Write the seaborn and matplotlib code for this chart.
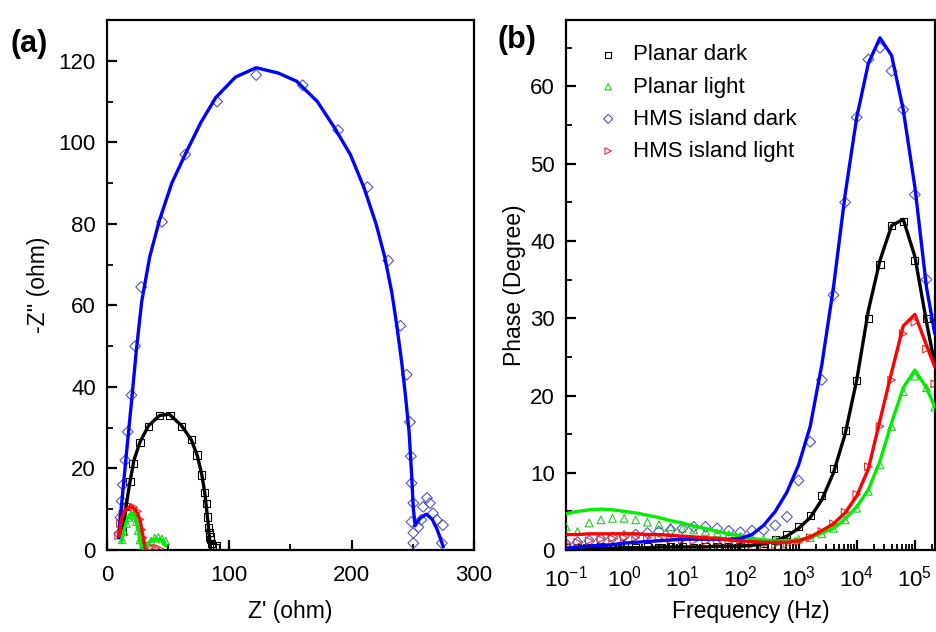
import matplotlib
matplotlib.use("Agg")
import matplotlib.pyplot as plt
from matplotlib.ticker import MultipleLocator, LogLocator, NullFormatter
import seaborn as sns
import pandas as pd

# === Nyquist (a): fit curves ===
hd_fit_x = [9.5, 10.5, 12.3, 16, 20.2, 24, 28.4, 35, 43, 53, 65, 77, 89, 105, 122, 140, 155, 172, 186,
            199, 210, 220, 227, 233, 237, 241, 244, 247, 249, 250.5, 252, 256, 261, 266, 270, 273, 275]
hd_fit_y = [3, 7, 12.3, 24, 36.8, 49, 61, 72, 81, 90, 97.7, 105, 111, 116, 118.3, 117, 115, 110, 103.6,
            97, 89, 80, 72, 63, 55, 46, 38, 29, 19, 10, 6, 7.8, 8.8, 7.5, 5, 2.5, 0.8]
pd_fit_x = [13, 15.5, 18.8, 22, 27, 34, 43, 51, 61, 69, 74, 77.5, 80, 82, 83.5, 84.5]
pd_fit_y = [4, 10.6, 16.7, 22, 26.5, 30.5, 33, 33.3, 30.5, 27, 23, 18.5, 14, 8.5, 4, 0.5]
hl_fit_x = [9.5, 10.5, 12, 15, 18, 20.2, 23, 25, 27, 28.5, 30, 31]
hl_fit_y = [3.5, 5, 7.8, 9.8, 10.5, 10.6, 10, 9, 7.4, 5, 2.5, 0.5]
pl_fit_x = [12, 14, 17, 20, 23, 25.5, 27, 28.5, 31, 35, 40, 45, 48]
pl_fit_y = [2, 5, 8, 9, 8, 5, 2, 0.5, 0.8, 2, 2.8, 2.5, 1]

# === Nyquist (a): measured points ===
pd_x = [13, 15.5, 18.8, 21.3, 27, 34.3, 43.3, 51.5, 61, 69, 73.6, 77.4, 80, 81.5, 82, 82.8, 83.5,
        84.2, 84.6, 85.6, 86.5, 88.3, 89.6]
pd_y = [4.5, 10.6, 16.7, 21.3, 26.3, 30.2, 32.9, 33.1, 30.2, 27.2, 23.3, 18.4, 14.2, 11.5, 8.1, 5.6,
        4.2, 3.2, 2.5, 1.7, 1.0, 0.7, 1.2]
pl_x = [12.5, 14, 16, 18, 20, 22, 24, 25.5, 27, 29, 36, 39, 42, 45, 48]
pl_y = [2.5, 4.5, 6.5, 8, 8.7, 8.5, 7, 4.8, 2.5, 0.8, 2.2, 2.9, 3.1, 2.7, 2.2]
hd_x = [10, 11, 12, 13, 15, 17, 20, 23, 28, 45, 64, 90, 122, 160, 189, 213, 230, 240, 245,
        247.7, 248.5, 249, 250.5, 249, 250.5, 250.5, 254.6, 257, 258.5, 261.6, 264, 266.6, 269.6,
        274.7, 273.8]
hd_y = [4, 8, 12, 16, 22, 29, 38, 50, 64.5, 80.5, 97, 110, 116.5, 114, 103, 89, 71, 55, 43,
        31.4, 23, 16.4, 11.5, 6.9, 4.2, 1.7, 5.6, 7.4, 10.6, 12.8, 11.5, 9, 7.4, 6.1, 1.7]
hl_x = [9.5, 11, 13, 16, 19, 22, 25, 27, 28.5, 29.5, 31, 33, 36, 40, 43]
hl_y = [3.5, 6.5, 8.8, 10.3, 10.8, 10.5, 9.5, 7.5, 5, 3, 1.5, 1, 0.7, 0.5, 0.3]

# === Bode (b) ===
freq = [0.1, 0.158, 0.251, 0.398, 0.631, 1.0, 1.58, 2.51, 3.98, 6.31, 10, 15.8, 25.1, 39.8, 63.1,
        100, 158, 251, 398, 631, 1000, 1585, 2512, 3981, 6310, 1e4, 15849, 25119, 39811, 63096,
        1e5, 158489, 2.2e5]
pd_phase_fit = [0.1, 0.1, 0.2, 0.2, 0.2, 0.3, 0.3, 0.3, 0.4, 0.4, 0.4, 0.4, 0.4, 0.5, 0.5,
                0.5, 0.6, 0.8, 1.2, 1.8, 2.8, 4.2, 6.5, 10, 15, 22, 31, 37.5, 42, 42.8,
                38, 29.5, 24]
pl_phase_fit = [4.7, 5.0, 5.2, 5.3, 5.2, 5.0, 4.8, 4.5, 4.2, 3.8, 3.5, 3.1, 2.8, 2.4, 2.1,
                1.8, 1.5, 1.3, 1.2, 1.2, 1.3, 1.6, 2.2, 2.8, 4.0, 5.6, 7.8, 11.5, 16.5, 21,
                23.3, 21, 18.5]
hd_phase_fit = [0.2, 0.4, 0.5, 0.6, 0.7, 0.9, 1.0, 1.1, 1.2, 1.3, 1.4, 1.4, 1.4, 1.4, 1.4,
                1.5, 2.0, 3.2, 5, 7.5, 11, 16, 24, 34, 46, 56, 63, 66.3, 64, 57,
                47, 34, 28]
hl_phase_fit = [2.0, 2.0, 2.1, 2.1, 2.1, 2.1, 2.1, 2.0, 2.0, 1.9, 1.8, 1.7, 1.6, 1.5, 1.3,
                1.2, 1.1, 1.0, 1.0, 1.0, 1.2, 1.7, 2.5, 3.4, 4.8, 7, 10.5, 16.8, 23, 29,
                30.5, 26.5, 23.7]
pd_phase = [0.3, 0.3, 0.3, 0.4, 0.3, 0.4, 0.3, 0.4, 0.3, 0.4, 0.4, 0.3, 0.4, 0.4, 0.5,
            0.5, 0.6, 0.9, 1.3, 2.0, 3.0, 4.5, 7, 10.5, 15.5, 22, 30, 37, 42, 42.5,
            37.5, 30, 25]
pl_phase = [3.0, 2.4, 3.5, 3.9, 4.1, 4.1, 3.9, 3.6, 3.3, 3.0, 2.8, 2.6, 2.4, 2.2, 2.0,
            1.8, 1.6, 1.4, 1.3, 1.3, 1.4, 1.6, 2.1, 2.8, 3.9, 5.4, 7.6, 11, 16, 20.5,
            22.5, 21, 18.5]
hd_phase = [0.8, 1.0, 1.2, 1.4, 1.6, 1.8, 2.0, 2.2, 2.4, 2.6, 2.8, 3.0, 3.0, 2.8, 2.5,
            2.3, 2.5, 2.6, 3.2, 4.3, 9, 14, 22, 33, 45, 56, 63.5, 65, 62, 57,
            46, 35, 30]
hl_phase = [0.8, 1.0, 1.2, 1.4, 1.5, 1.6, 1.6, 1.6, 1.5, 1.4, 1.3, 1.2, 1.1, 1.0, 0.9,
            0.8, 0.7, 0.7, 0.7, 0.8, 1.1, 1.6, 2.4, 3.4, 4.9, 7.2, 10.8, 16, 22, 28,
            29.5, 26, 21.5]

labels = ["Planar dark", "Planar light", "HMS island dark", "HMS island light"]
line_colors = ["#000000", "#00ee00", "#0000ff", "#ff0000"]
mark_colors = ["#000000", "#22cc22", "#5555bb", "#dd3333"]
markers = ["s", "^", "D", ">"]

sns.set_theme(style="ticks")
plt.rcParams["font.family"] = ["Liberation Sans", "DejaVu Sans"]
plt.rcParams["mathtext.fontset"] = "custom"
plt.rcParams["mathtext.rm"] = "Liberation Sans"
plt.rcParams["mathtext.it"] = "Liberation Sans"
plt.rcParams["mathtext.default"] = "regular"
plt.rcParams["text.color"] = "black"
plt.rcParams["axes.labelcolor"] = "black"

fig = plt.figure(figsize=(9.36, 6.32), dpi=100)
ax1 = fig.add_axes([0.1143, 0.1297, 0.392, 0.8386])
ax2 = fig.add_axes([0.6047, 0.1297, 0.394, 0.8386])

fits_a = [(pd_fit_x, pd_fit_y), (pl_fit_x, pl_fit_y), (hd_fit_x, hd_fit_y), (hl_fit_x, hl_fit_y)]
pts_a = [(pd_x, pd_y), (pl_x, pl_y), (hd_x, hd_y), (hl_x, hl_y)]
fits_b = [pd_phase_fit, pl_phase_fit, hd_phase_fit, hl_phase_fit]
pts_b = [pd_phase, pl_phase, hd_phase, hl_phase]

sizes = [26, 30, 30, 30]
for i in range(4):
    sns.scatterplot(x=pts_a[i][0], y=pts_a[i][1], ax=ax1, marker=markers[i], s=sizes[i],
                    facecolor="none", edgecolor=mark_colors[i], linewidth=0.8, zorder=3)
    sns.scatterplot(x=freq, y=pts_b[i], ax=ax2, marker=markers[i], s=sizes[i],
                    facecolor="none", edgecolor=mark_colors[i], linewidth=0.8, zorder=3,
                    label=labels[i])
for i in [0, 1, 2, 3]:
    df = pd.DataFrame({"x": fits_a[i][0], "y": fits_a[i][1]})
    sns.lineplot(data=df, x="x", y="y", ax=ax1, sort=False, estimator=None,
                 color=line_colors[i], linewidth=2.4, zorder=4)
    sns.lineplot(x=freq, y=fits_b[i], ax=ax2, sort=False, estimator=None,
                 color=line_colors[i], linewidth=2.4, zorder=4)

# (a) axes
ax1.set_xlim(0, 300)
ax1.set_ylim(0, 130)
ax1.xaxis.set_major_locator(MultipleLocator(100))
ax1.xaxis.set_minor_locator(MultipleLocator(50))
ax1.yaxis.set_major_locator(MultipleLocator(20))
ax1.yaxis.set_minor_locator(MultipleLocator(10))
ax1.set_xlabel("Z' (ohm)", fontsize=16.5, labelpad=10)
ax1.set_ylabel("-Z'' (ohm)", fontsize=16.5, labelpad=6)

# (b) axes
ax2.set_xscale("log")
ax2.set_xlim(0.1, 2.2e5)
ax2.set_ylim(0, 68.6)
ax2.xaxis.set_major_locator(LogLocator(base=10, numticks=20))
ax2.xaxis.set_minor_locator(LogLocator(base=10, subs=range(2, 10), numticks=20))
ax2.xaxis.set_minor_formatter(NullFormatter())
ax2.yaxis.set_major_locator(MultipleLocator(10))
ax2.yaxis.set_minor_locator(MultipleLocator(5))
ax2.set_xlabel("Frequency (Hz)", fontsize=16.5, labelpad=6)
ax2.set_ylabel("Phase (Degree)", fontsize=16.5, labelpad=3)
ax2.legend(loc="upper left", frameon=False, fontsize=16, handletextpad=0.6, handlelength=1.0,
           labelspacing=0.5, borderaxespad=0.7, bbox_to_anchor=(0.018, 1.0), markerscale=0.85)

for ax in (ax1, ax2):
    for sp in ax.spines.values():
        sp.set_linewidth(1.6)
        sp.set_color("black")
    ax.tick_params(which="major", direction="in", length=7, width=1.6, labelsize=16,
                   pad=8, top=False, right=False, colors="black")
    ax.tick_params(which="minor", direction="in", length=4, width=1.3, top=False, right=False,
                   colors="black")
    ax.tick_params(axis="x", which="major", pad=11)
    ax.grid(False)

fig.text(0.011, 0.93, "(a)", fontsize=22, fontweight="bold", va="center")
fig.text(0.531, 0.937, "(b)", fontsize=22, fontweight="bold", va="center")

fig.savefig("out.png", dpi=100)
